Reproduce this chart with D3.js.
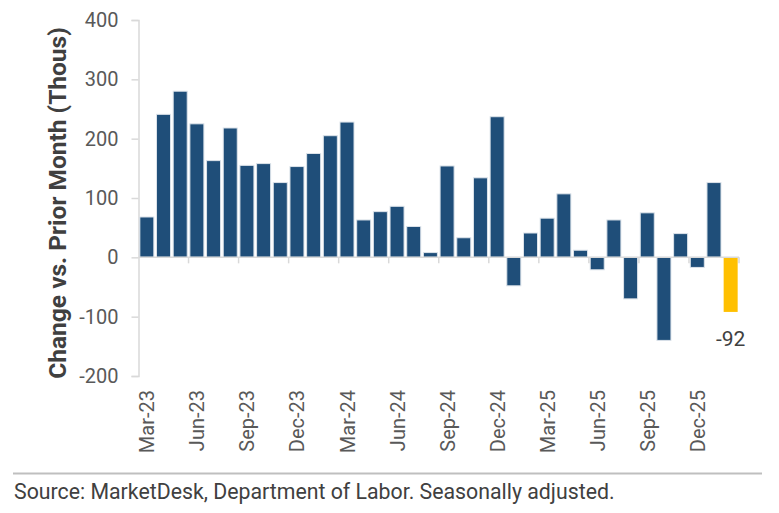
<!DOCTYPE html>
<html>
<head>
<meta charset="utf-8">
<script src="https://cdn.jsdelivr.net/npm/d3@7"></script>
<style>
  body { margin: 0; background: #fff; }
  svg text { font-family: Roboto, "Liberation Sans", sans-serif; }
</style>
</head>
<body>
<div id="chart"></div>
<script>
// monthly change in payrolls, thousands
var months = ["Mar-23","Apr-23","May-23","Jun-23","Jul-23","Aug-23","Sep-23","Oct-23","Nov-23","Dec-23",
              "Jan-24","Feb-24","Mar-24","Apr-24","May-24","Jun-24","Jul-24","Aug-24","Sep-24","Oct-24",
              "Nov-24","Dec-24","Jan-25","Feb-25","Mar-25","Apr-25","May-25","Jun-25","Jul-25","Aug-25",
              "Sep-25","Oct-25","Nov-25","Dec-25","Jan-26","Feb-26"];
var changes = [68, 241, 280, 225, 163, 218, 155, 158, 126, 153,
               175, 205, 228, 63, 77, 86, 52, 8, 154, 33,
               134, 237, -48, 41, 66, 107, 12, -21, 63, -70,
               75, -140, 40, -17, 126, -92];
var shownLabels = ["Mar-23","Jun-23","Sep-23","Dec-23","Mar-24","Jun-24","Sep-24","Dec-24","Mar-25","Jun-25","Sep-25","Dec-25"];
var yTicks = [-200, -100, 0, 100, 200, 300, 400];

var width = 779, height = 513;
var margin = {top: 20, right: 40, bottom: 137, left: 138.5};

var svg = d3.select("#chart").append("svg")
    .attr("width", width).attr("height", height);

var x = d3.scaleBand().domain(months)
    .range([margin.left, width - margin.right]).paddingInner(0.16).paddingOuter(0.08);
var y = d3.scaleLinear().domain([-200, 400])
    .range([height - margin.bottom, margin.top]);

// y axis
var yAxis = svg.append("g")
    .attr("transform", "translate(" + margin.left + ",0)")
    .call(d3.axisLeft(y).tickValues(yTicks).tickSize(7).tickPadding(13).tickFormat(function(d) { return "" + d; }));
yAxis.select(".domain").attr("stroke", "#d9d9d9").attr("stroke-width", 1.5);
yAxis.selectAll(".tick line").attr("stroke", "#d9d9d9").attr("stroke-width", 1.5);
yAxis.selectAll(".tick text").attr("fill", "#595959").style("font-size", "20px");

// bars
svg.append("g").selectAll("rect")
    .data(changes)
    .join("rect")
    .attr("x", function(d, i) { return x(months[i]); })
    .attr("y", function(d) { return y(Math.max(0, d)); })
    .attr("width", x.bandwidth())
    .attr("height", function(d) { return Math.abs(y(d) - y(0)); })
    .attr("fill", function(d, i) { return i == changes.length - 1 ? "#FFC000" : "#1F4E79"; })
    .attr("stroke", function(d, i) { return i == changes.length - 1 ? "none" : "#dce3ea"; })
    .attr("stroke-width", 1);

// zero line with quarterly ticks at band boundaries
var step = x.step();
svg.append("line")
    .attr("x1", margin.left).attr("x2", width - margin.right)
    .attr("y1", y(0)).attr("y2", y(0))
    .attr("stroke", "#d9d9d9").attr("stroke-width", 1.5);
svg.append("g").selectAll("line")
    .data(d3.range(3, months.length + 1, 3))
    .join("line")
    .attr("x1", function(k) { return margin.left + k * step; })
    .attr("x2", function(k) { return margin.left + k * step; })
    .attr("y1", y(0)).attr("y2", y(0) + 6)
    .attr("stroke", "#d9d9d9").attr("stroke-width", 1.5);

// x labels
svg.append("g").selectAll("text")
    .data(shownLabels)
    .join("text")
    .attr("transform", function(d) {
        return "translate(" + (x(d) + x.bandwidth() / 2 + 7.5) + "," + 390 + ") rotate(-90)";
    })
    .attr("text-anchor", "end")
    .attr("fill", "#595959")
    .style("font-size", "20px")
    .text(function(d) { return d; });

// label for last bar
var last = changes.length - 1;
svg.append("text")
    .attr("x", x(months[last]) + x.bandwidth() / 2)
    .attr("y", y(changes[last]) + 34)
    .attr("text-anchor", "middle")
    .attr("fill", "#404040")
    .style("font-size", "21px")
    .text(changes[last]);

// y axis title
svg.append("text")
    .attr("transform", "translate(66," + 203 + ") rotate(-90)")
    .attr("text-anchor", "middle")
    .attr("fill", "#404040")
    .style("font-size", "24.5px")
    .style("font-weight", "bold")
    .text("Change vs. Prior Month (Thous)");

// footer
svg.append("line")
    .attr("x1", 13).attr("x2", 762)
    .attr("y1", 473.5).attr("y2", 473.5)
    .attr("stroke", "#bfbfbf").attr("stroke-width", 2);
svg.append("text")
    .attr("x", 14).attr("y", 499)
    .attr("fill", "#404040")
    .style("font-size", "21.3px")
    .text("Source: MarketDesk, Department of Labor. Seasonally adjusted.");
</script>
</body>
</html>
